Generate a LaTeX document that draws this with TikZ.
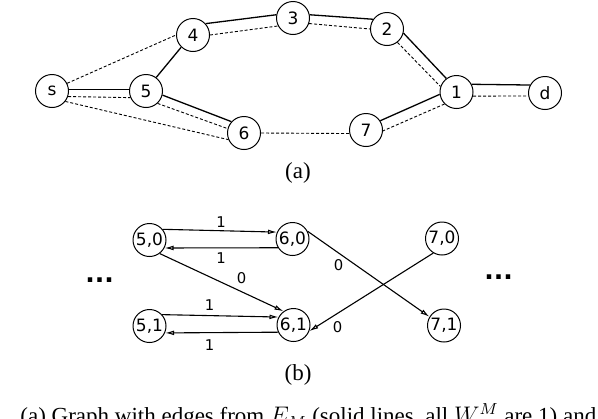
\documentclass[tikz,border=0pt]{standalone}
\usepackage{fontspec}
\setmainfont{Liberation Serif}
\newfontfamily\nodefont{DejaVu Sans}
\usepackage{tikz}
\usetikzlibrary{arrows.meta}
\tikzset{
  v/.style={circle,draw,line width=0.5pt,minimum size=16.5pt,inner sep=0pt,font=\nodefont\fontsize{8.5}{10}\selectfont},
  sl/.style={line width=0.65pt},
  dl/.style={line width=0.45pt,dash pattern=on 1.5pt off 1pt},
  arr/.style={-{Latex[open,length=4.5pt,width=2.4pt]},line width=0.55pt},
  w/.style={font=\nodefont\fontsize{7.4}{9}\selectfont,inner sep=0pt},
  sub/.style={font=\fontsize{11.5}{14}\selectfont,inner sep=0pt},
  dots/.style={font=\nodefont\bfseries\fontsize{12.5}{15}\selectfont,inner sep=0pt},
}
\begin{document}
\begin{tikzpicture}[x=0.5pt,y=-0.5pt]
  \useasboundingbox (0,0) rectangle (598,418);
  \clip (0,0) rectangle (598,418);
  % (a) graph
  \node[v] (ns) at (52,91) {s};
  \node[v] (n5) at (146,91) {5};
  \node[v] (n4) at (193,35) {4};
  \node[v] (n3) at (293,18) {3};
  \node[v] (n2) at (387,29) {2};
  \node[v] (n1) at (456.5,92) {1};
  \node[v] (nd) at (545,93) {d};
  \node[v] (n6) at (244,133) {6};
  \node[v] (n7) at (366,130) {7};
  \draw[sl] (ns.6) -- (n5.174);   \draw[dl] (ns.-19) -- (n5.-157);
  \draw[dl] (ns.27) -- (n4.180);  \draw[dl] (ns.-38) -- (n6.-157);
  \draw[sl] (n5.53) -- (n4.-134);
  \draw[sl] (n5.-14) -- (n6.138); \draw[dl] (n5.-47) -- (n6.165);
  \draw[sl] (n4.42) -- (n3.169);  \draw[dl] (n4.0) -- (n3.208);
  \draw[sl] (n3.11) -- (n2.145);  \draw[dl] (n3.-19) -- (n2.180);
  \draw[sl] (n2.-14) -- (n1.127); \draw[dl] (n2.-52) -- (n1.161);
  \draw[sl] (n1.27) -- (nd.152);  \draw[dl] (n1.-14) -- (nd.190);
  \draw[sl] (n1.188) -- (n7.33);  \draw[dl] (n1.225) -- (n7.-3);
  \draw[dl] (n6.0) -- (n7.192);
  \node[sub] (la) at (298,173) {(a)};
  % (b) expanded graph
  \node[v] (n50) at (149.5,240) {5,0};
  \node[v] (n60) at (292.5,239) {6,0};
  \node[v] (n70) at (442,238.5) {7,0};
  \node[v] (n51) at (149.5,326) {5,1};
  \node[v] (n61) at (293.5,325) {6,1};
  \node[v] (n71) at (444,325.5) {7,1};
  \draw[arr] (n50.39) -- (n60.156);  \draw[arr] (n60.211) -- (n50.-28);
  \draw[arr] (n50.-53) -- (n61.126);
  \draw[arr] (n51.42) -- (n61.152);  \draw[arr] (n61.205) -- (n51.-24);
  \draw[arr] (n60.27) -- (n71.149);  \draw[arr] (n70.239) -- (n61.-21);
  \node[w] (w1) at (221,222) {1};
  \node[w] (w2) at (221,258.5) {1};
  \node[w] (w3) at (241.5,278.5) {0};
  \node[w] (w4) at (209.5,305) {1};
  \node[w] (w5) at (209.5,345) {1};
  \node[w] (w6) at (338.5,265.5) {0};
  \node[w] (w7) at (337.5,327.5) {0};
  \node[dots] (dl) at (99.5,280) {...};
  \node[dots] (dr) at (498.5,277.5) {...};
  \node[sub] (lb) at (298,375) {(b)};
  \node[sub,anchor=base west] (cap) at (20,423.5) {(a) Graph with edges from $E_M$ (solid lines, all $W^M$ are 1) and};
\end{tikzpicture}
\end{document}
